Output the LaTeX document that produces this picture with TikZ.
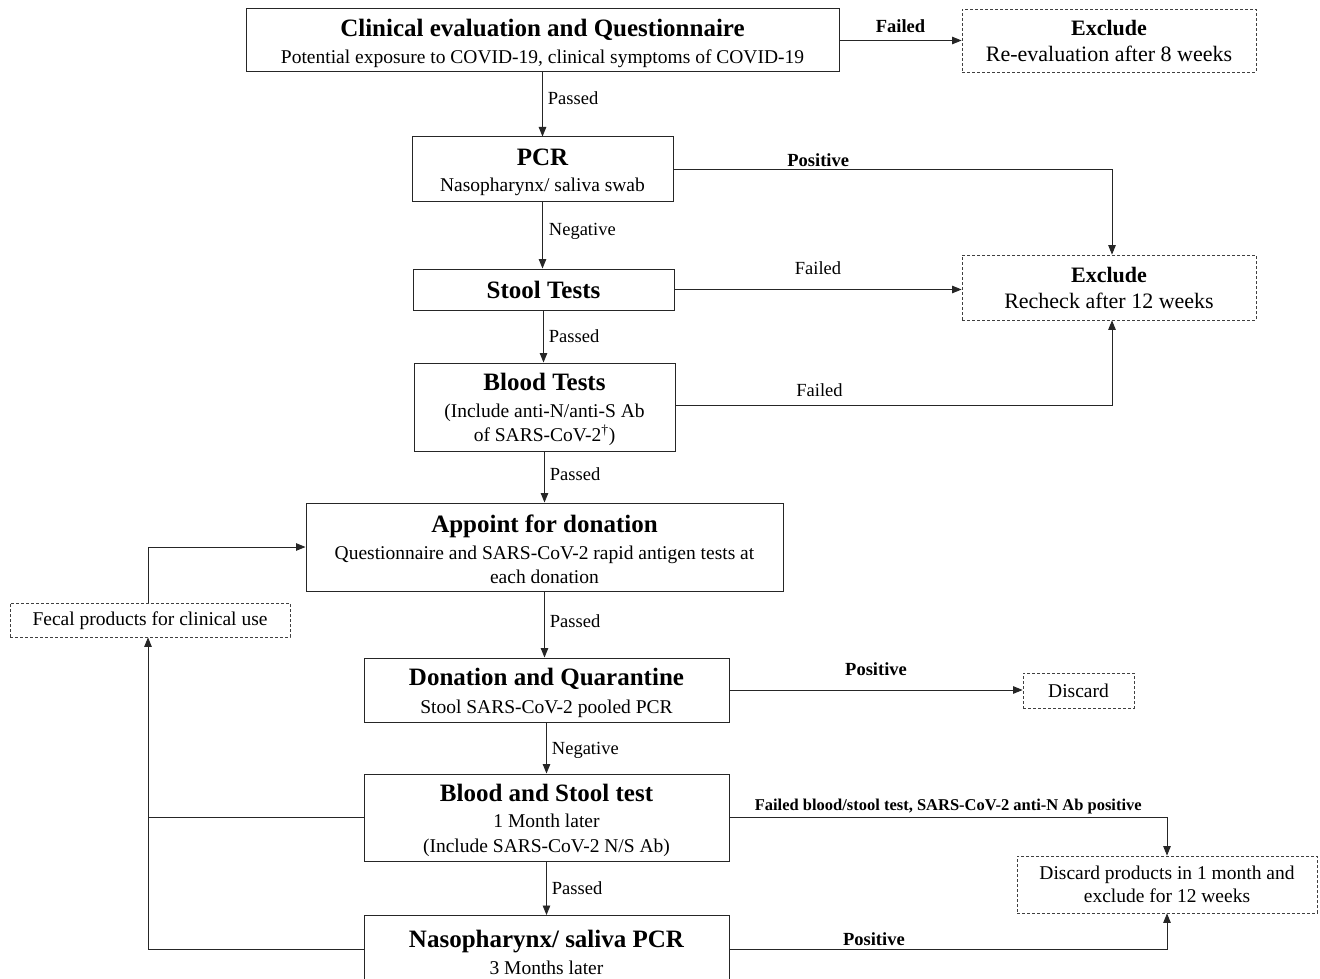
\documentclass[tikz,border=0pt]{standalone}
\usepackage{fontspec}
\setmainfont{Liberation Serif}
\usetikzlibrary{arrows.meta,positioning}
\tikzset{
  box/.style={draw=black!85, line width=1pt, align=center, inner sep=0pt,
    font=\fontsize{19.5}{24.5}\selectfont},
  dbox/.style={draw=black!75, line width=0.8pt, dash pattern=on 3pt off 2pt,
    align=center, inner sep=0pt, font=\fontsize{19.5}{23.5}\selectfont},
  conn/.style={draw=black!85, line width=0.9pt, -{Triangle[length=9.5pt,width=7.5pt]}},
  plain/.style={draw=black!85, line width=0.9pt},
  lab/.style={font=\fontsize{18.5}{20}\selectfont, inner sep=2pt},
  blab/.style={font=\fontsize{18.5}{20}\selectfont\bfseries, inner sep=2pt},
}
\newcommand{\ttl}[1]{{\fontsize{25}{27}\selectfont\bfseries\rule{0pt}{23pt}#1}}
\newcommand{\ttlplain}[1]{{\fontsize{25}{27}\selectfont\bfseries #1}}
\newcommand{\exttl}[1]{{\fontsize{22}{24}\selectfont\bfseries #1}}
\begin{document}
\begin{tikzpicture}[x=1pt,y=-1pt]
\fill[white] (0,0) rectangle (1320,979);
\useasboundingbox (0,0) rectangle (1320,979);

\node[box, minimum width=593pt, minimum height=63pt] (c1) at (542.5,40.5)
  {\ttl{Clinical evaluation and Questionnaire}\\[2pt]Potential exposure to COVID-19, clinical symptoms of COVID-19};
\node[dbox, minimum width=294pt, minimum height=63pt, font=\fontsize{22}{26}\selectfont] (ex1) at (1109,40.5)
  {\exttl{Exclude}\\Re-evaluation after 8 weeks};
\node[box, minimum width=261pt, minimum height=64pt] (pcr) at (542.5,169)
  {\ttl{PCR}\\[2pt]Nasopharynx/ saliva swab};
\node[box, minimum width=261pt, minimum height=41pt] (stool) at (543.5,289.5)
  {\ttlplain{Stool Tests}};
\node[dbox, minimum width=294pt, minimum height=65pt, font=\fontsize{22}{26}\selectfont] (ex2) at (1109,287.5)
  {\exttl{Exclude}\\Recheck after 12 weeks};
\node[box, minimum width=261pt, minimum height=88pt] (blood) at (544.5,407)
  {\ttl{Blood Tests}\\[2pt](Include anti-N/anti-S Ab\\of SARS-CoV-2\textsuperscript{†})};
\node[box, minimum width=477pt, minimum height=88pt] (app) at (544.5,547)
  {\ttl{Appoint for donation}\\[2pt]Questionnaire and SARS-CoV-2 rapid antigen tests at\\each donation};
\node[dbox, minimum width=280pt, minimum height=34pt] (fecal) at (150,620)
  {\rule{0pt}{16pt}Fecal products for clinical use};
\node[box, minimum width=365pt, minimum height=64pt] (don) at (546.5,690)
  {\ttl{Donation and Quarantine}\\[4pt]Stool SARS-CoV-2 pooled PCR};
\node[dbox, minimum width=111pt, minimum height=35pt] (disc) at (1078.5,690.5)
  {Discard};
\node[box, minimum width=365pt, minimum height=87pt] (bs) at (546.5,817.5)
  {\ttl{Blood and Stool test}\\[2pt]1 Month later\\(Include SARS-CoV-2 N/S Ab)};
\node[dbox, minimum width=300pt, minimum height=57pt] (dp) at (1167,884.5)
  {Discard products in 1 month and\\exclude for 12 weeks};
\node[box, minimum width=365pt, minimum height=74pt, anchor=north] (naso) at (546.5,915)
  {\ttlplain{Nasopharynx/ saliva PCR}\\[2pt]3 Months later};

\coordinate (fs) at ([xshift=-2pt]fecal.south);
\coordinate (fn) at ([xshift=-2pt]fecal.north);

% connectors
\draw[conn] (c1) -- node[blab, above, yshift=5pt] {Failed} (ex1);
\draw[conn] (c1.south) -- node[lab, right, pos=0.4, xshift=3pt] {Passed} (c1.south |- pcr.north);
\draw[conn] (pcr.east) -| node[blab, above, pos=0.165] {Positive} ([xshift=3pt]ex2.north);
\draw[conn] (pcr.south) -- node[lab, right, pos=0.45, xshift=4pt] {Negative} (pcr.south |- stool.north);
\draw[conn] (stool.east) -- node[lab, above, yshift=12pt] {Failed} (stool.east -| ex2.west);
\draw[conn] (stool.south) -- node[lab, right, pos=0.5, xshift=3pt] {Passed} (stool.south |- blood.north);
\draw[conn] ([yshift=2pt]blood.east) -| node[lab, above, pos=0.165, yshift=6pt] {Failed} ([xshift=3pt]ex2.south);
\draw[conn] (blood.south) -- node[lab, right, pos=0.45, xshift=3pt] {Passed} (blood.south |- app.north);
\draw[conn] (fn) |- (app.west);
\draw[conn] (app.south) -- node[lab, right, pos=0.45, xshift=3pt] {Passed} (app.south |- don.north);
\draw[conn] (don.east) -- node[blab, above, yshift=12pt] {Positive} (don.east -| disc.west);
\draw[conn] (don.south) -- node[lab, right, pos=0.55, xshift=3pt] {Negative} (don.south |- bs.north);
\draw[conn] (bs.east) -| node[blab, above, pos=0.25, yshift=1pt, font=\fontsize{16.5}{18}\selectfont\bfseries] {Failed blood/stool test, SARS-CoV-2 anti-N Ab positive} (dp.north);
\draw[conn] (bs.south) -- node[lab, right, pos=0.5, xshift=3pt] {Passed} (bs.south |- naso.north);
\draw[plain] (bs.west) -- (bs.west -| fs);
\draw[conn] ([yshift=3pt]naso.west) -| (fs);
\draw[conn] ([yshift=3pt]naso.east) -| node[blab, above, pos=0.165, inner sep=1pt, yshift=2pt] {Positive} (dp.south);
\end{tikzpicture}
\end{document}
